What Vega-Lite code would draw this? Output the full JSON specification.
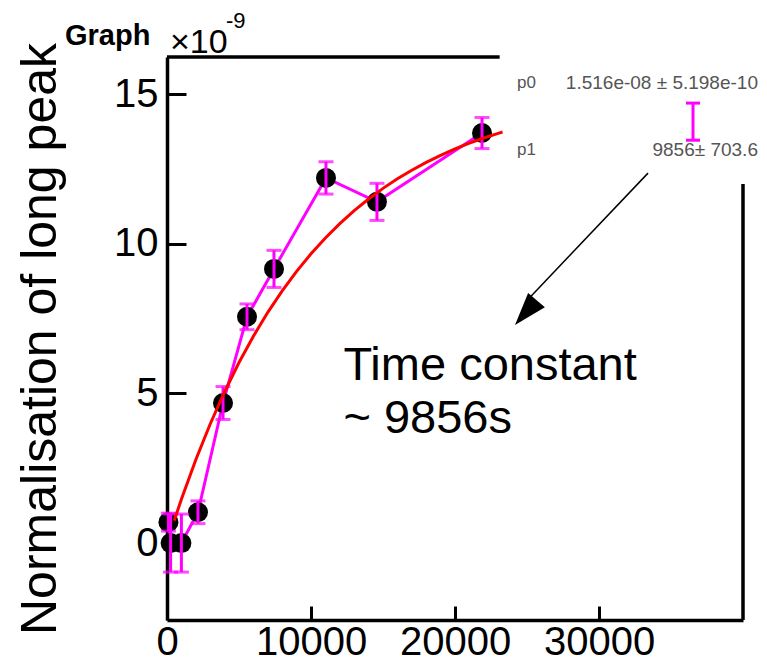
{
  "$schema": "https://vega.github.io/schema/vega-lite/v6.json",
  "width": 576,
  "height": 563,
  "autosize": {"type": "none"},
  "padding": {"left": 167, "top": 57, "right": 24, "bottom": 42},
  "background": "white",
  "config": {
    "view": {"stroke": null},
    "font": "Liberation Sans",
    "axis": {"grid": false, "domainColor": "black", "tickColor": "black", "labelColor": "black", "titleColor": "black"}
  },
  "datasets": {
    "points": [
      {"t": 100, "n": 0.7, "e": 0.3},
      {"t": 250, "n": 0.0, "e": 0.97},
      {"t": 1000, "n": 0.0, "e": 0.97},
      {"t": 2150, "n": 1.03, "e": 0.38},
      {"t": 3890, "n": 4.68, "e": 0.55},
      {"t": 5556, "n": 7.56, "e": 0.43},
      {"t": 7430, "n": 9.16, "e": 0.62},
      {"t": 11040, "n": 12.2, "e": 0.54},
      {"t": 14580, "n": 11.4, "e": 0.62},
      {"t": 21875, "n": 13.7, "e": 0.52}
    ],
    "fit": [
      {"t": 500, "n": 0.750},
      {"t": 1000, "n": 1.463},
      {"t": 2000, "n": 2.784},
      {"t": 3000, "n": 3.978},
      {"t": 4000, "n": 5.057},
      {"t": 5000, "n": 6.032},
      {"t": 6000, "n": 6.913},
      {"t": 7000, "n": 7.709},
      {"t": 8000, "n": 8.428},
      {"t": 9000, "n": 9.077},
      {"t": 10000, "n": 9.664},
      {"t": 11000, "n": 10.194},
      {"t": 12000, "n": 10.673},
      {"t": 13000, "n": 11.106},
      {"t": 14000, "n": 11.497},
      {"t": 15000, "n": 11.851},
      {"t": 16000, "n": 12.170},
      {"t": 17000, "n": 12.458},
      {"t": 18000, "n": 12.719},
      {"t": 19000, "n": 12.955},
      {"t": 20000, "n": 13.167},
      {"t": 21000, "n": 13.360},
      {"t": 22000, "n": 13.533},
      {"t": 23000, "n": 13.690},
      {"t": 23300, "n": 13.734}
    ]
  },
  "layer": [
    {
      "data": {"name": "points"},
      "mark": {"type": "line", "color": "#ff00ff", "strokeWidth": 3},
      "encoding": {
        "x": {
          "field": "t", "type": "quantitative", "title": null,
          "scale": {"domain": [0, 40000], "nice": false, "zero": false},
          "axis": {
            "values": [0, 10000, 20000, 30000], "format": "d",
            "labelFontSize": 40, "labelPadding": 16, "labelFlush": false,
            "domainWidth": 3.5, "tickWidth": 3, "tickSize": -14
          }
        },
        "y": {
          "field": "n", "type": "quantitative",
          "title": "Normalisation of long peak",
          "scale": {"domain": [-2.57, 16.24], "nice": false, "zero": false},
          "axis": {
            "values": [0, 5, 10, 15], "format": "d",
            "titleFontSize": 50, "titleFontWeight": "normal",
            "titleAngle": -90, "titleAlign": "center", "titleBaseline": "middle",
            "titleX": -127, "titleY": 281.5,
            "labelFontSize": 40, "labelPadding": 28, "labelFlush": false,
            "domainWidth": 3.5, "tickWidth": 3, "tickSize": -19
          }
        }
      }
    },
    {
      "data": {"name": "points"},
      "mark": {"type": "point", "filled": true, "color": "black", "opacity": 1, "size": 400},
      "encoding": {
        "x": {"field": "t", "type": "quantitative", "title": null},
        "y": {"field": "n", "type": "quantitative", "title": "Normalisation of long peak"}
      }
    },
    {
      "data": {"name": "points"},
      "mark": {
        "type": "errorbar", "color": "#ff00ff",
        "rule": {"strokeWidth": 3},
        "ticks": {"size": 15, "thickness": 3}
      },
      "encoding": {
        "x": {"field": "t", "type": "quantitative", "title": null},
        "y": {"field": "n", "type": "quantitative", "title": "Normalisation of long peak"},
        "yError": {"field": "e"}
      }
    },
    {
      "data": {"name": "fit"},
      "mark": {"type": "line", "color": "#ff0000", "strokeWidth": 3},
      "encoding": {
        "x": {"field": "t", "type": "quantitative", "title": null},
        "y": {"field": "n", "type": "quantitative", "title": "Normalisation of long peak"}
      }
    },
    {
      "data": {"values": [{}]},
      "mark": {"type": "rule", "color": "black", "strokeWidth": 3.5},
      "encoding": {
        "x": {"datum": 0, "type": "quantitative"},
        "x2": {"datum": 23100},
        "y": {"datum": 16.24, "type": "quantitative"}
      }
    },
    {
      "data": {"values": [{}]},
      "mark": {"type": "rule", "color": "black", "strokeWidth": 3.5},
      "encoding": {
        "x": {"datum": 40000, "type": "quantitative"},
        "y": {"datum": -2.57, "type": "quantitative"},
        "y2": {"datum": 12.0}
      }
    },
    {
      "data": {"values": [{}]},
      "mark": {"type": "rule", "color": "#ff00ff", "strokeWidth": 3},
      "encoding": {
        "x": {"datum": 36528, "type": "quantitative"},
        "y": {"datum": 13.46, "type": "quantitative"},
        "y2": {"datum": 14.70}
      }
    },
    {
      "data": {"values": [{"v": 13.46}, {"v": 14.70}]},
      "mark": {"type": "rule", "color": "#ff00ff", "strokeWidth": 3},
      "encoding": {
        "x": {"datum": 36040, "type": "quantitative"},
        "x2": {"datum": 37016},
        "y": {"field": "v", "type": "quantitative", "title": "Normalisation of long peak"}
      }
    },
    {
      "data": {"values": [{"label": "p0", "v": 15.37}, {"label": "p1", "v": 13.13}]},
      "mark": {"type": "text", "align": "left", "baseline": "middle", "fontSize": 17, "color": "#555555"},
      "encoding": {
        "x": {"datum": 24306, "type": "quantitative"},
        "y": {"field": "v", "type": "quantitative", "title": "Normalisation of long peak"},
        "text": {"field": "label"}
      }
    },
    {
      "data": {"values": [{"label": "1.516e-08 ± 5.198e-10", "v": 15.37}, {"label": "9856± 703.6", "v": 13.13}]},
      "mark": {"type": "text", "align": "right", "baseline": "middle", "fontSize": 19, "color": "#555555"},
      "encoding": {
        "x": {"datum": 41040, "type": "quantitative"},
        "y": {"field": "v", "type": "quantitative", "title": "Normalisation of long peak"},
        "text": {"field": "label"}
      }
    },
    {
      "data": {"values": [{}]},
      "mark": {"type": "text", "align": "left", "baseline": "alphabetic", "fontSize": 29, "fontWeight": "bold", "color": "black"},
      "encoding": {
        "x": {"datum": -7083, "type": "quantitative"},
        "y": {"datum": 16.64, "type": "quantitative"},
        "text": {"value": "Graph"}
      }
    },
    {
      "data": {"values": [{}]},
      "mark": {"type": "text", "align": "left", "baseline": "alphabetic", "fontSize": 34, "color": "black"},
      "encoding": {
        "x": {"datum": 208, "type": "quantitative"},
        "y": {"datum": 16.37, "type": "quantitative"},
        "text": {"value": "×10"}
      }
    },
    {
      "data": {"values": [{}]},
      "mark": {"type": "text", "align": "left", "baseline": "alphabetic", "fontSize": 22, "color": "black"},
      "encoding": {
        "x": {"datum": 4100, "type": "quantitative"},
        "y": {"datum": 17.2, "type": "quantitative"},
        "text": {"value": "-9"}
      }
    },
    {
      "data": {"values": [{}]},
      "mark": {"type": "rule", "color": "black", "strokeWidth": 1.5},
      "encoding": {
        "x": {"datum": 33403, "type": "quantitative"},
        "y": {"datum": 12.36, "type": "quantitative"},
        "x2": {"datum": 25278},
        "y2": {"datum": 8.25}
      }
    },
    {
      "data": {"values": [{}]},
      "mark": {"type": "point", "shape": "M0,-1L0.67,1L-0.67,1Z", "filled": true, "color": "black", "opacity": 1, "size": 1089, "angle": 220.7},
      "encoding": {
        "x": {"datum": 24913, "type": "quantitative"},
        "y": {"datum": 7.70, "type": "quantitative"}
      }
    },
    {
      "data": {"values": [{"line": "Time constant", "v": 5.45}, {"line": "~ 9856s", "v": 3.68}]},
      "mark": {"type": "text", "align": "left", "baseline": "alphabetic", "fontSize": 47, "color": "black"},
      "encoding": {
        "x": {"datum": 12249, "type": "quantitative"},
        "y": {"field": "v", "type": "quantitative", "title": "Normalisation of long peak"},
        "text": {"field": "line"}
      }
    }
  ]
}
